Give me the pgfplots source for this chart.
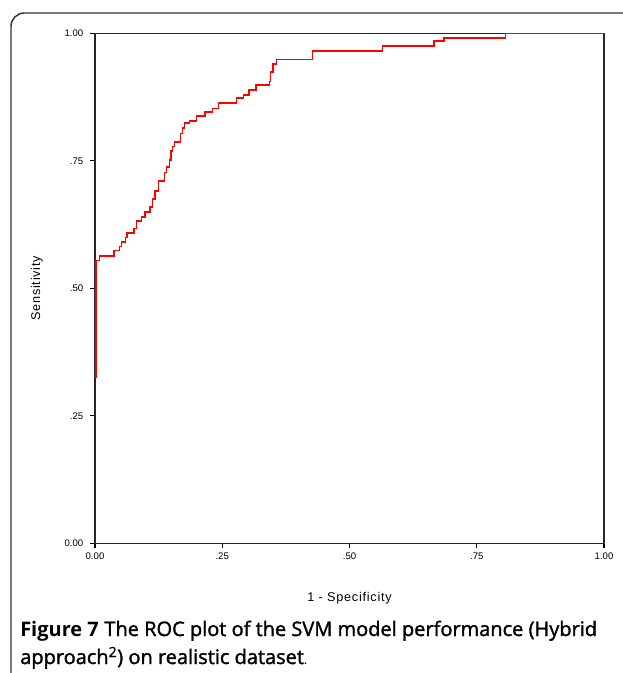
\documentclass[border=0pt]{standalone}
\usepackage{pgfplots}
\pgfplotsset{compat=1.18}
\usepackage{fontspec}
\setmainfont{Liberation Sans}
\newfontfamily\capfont{Open Sans}
\newfontfamily\capsemi[FakeBold=1.6]{Open Sans}
\begin{document}
\begin{tikzpicture}
\useasboundingbox (0,0) rectangle (466.5pt,-504.75pt);
\draw[line width=1.1pt, black!80, rounded corners=10pt] (8.25pt,-520pt) -- (8.25pt,-9.75pt) -- (480pt,-9.75pt);
\begin{axis}[
  at={(71.25pt,-24.975pt)}, anchor=north west,
  scale only axis, width=381.75pt, height=382.5pt,
  xmin=0, xmax=1, ymin=0, ymax=1,
  axis line style={line width=0.9pt, black!85},
  tick pos=left, tick align=outside, major tick length=3.75pt,
  tick style={line width=0.8pt, black},
  xtick={0,0.25,0.5,0.75,1}, ytick={0,0.25,0.5,0.75,1},
  xticklabels={0.00,.25,.50,.75,1.00}, yticklabels={0.00,.25,.50,.75,1.00},
  ticklabel style={font=\fontsize{7.2}{8}\selectfont},
  yticklabel style={xshift=-1.5pt},
  xlabel={1 - Specificity}, ylabel={Sensitivity},
  label style={font=\fontsize{9.5}{11}\selectfont\addfontfeature{LetterSpace=6}},
  xlabel style={at={(axis description cs:0.5,-0.1072)}, anchor=center},
  ylabel style={at={(axis description cs:-0.114,0.5)}, anchor=center},
  clip=false,
]
\addplot[const plot, red, line width=1.1pt] coordinates {
(0.002,0.324) (0.002,0.554) (0.0092,0.563) (0.0373,0.574) (0.0481,0.582) (0.0521,0.591) (0.0599,0.600) (0.0629,0.608) (0.0766,0.617) (0.0815,0.632) (0.0914,0.640) (0.0982,0.650) (0.1081,0.659) (0.1130,0.675) (0.1179,0.691) (0.1244,0.710) (0.1361,0.727) (0.1405,0.738) (0.1460,0.752) (0.1493,0.769) (0.1527,0.778) (0.1558,0.787) (0.1684,0.804) (0.1715,0.814) (0.1754,0.824) (0.1853,0.828) (0.1998,0.838) (0.2161,0.846) (0.2312,0.853) (0.2422,0.863) (0.2784,0.873) (0.2917,0.879) (0.3026,0.889) (0.3163,0.899) (0.3424,0.905) (0.3448,0.924) (0.3497,0.940) (0.3566,0.949) (0.4273,0.965) (0.5648,0.975) (0.6660,0.985) (0.6857,0.991) (0.8069,1.0) (1.0,1.0)
};
\end{axis}
\node[anchor=base west, inner sep=0pt] at (15pt,-477pt) {\fontsize{15}{17}\selectfont{\capfont\bfseries Figure 7} \capsemi The ROC plot of the SVM model performance (Hybrid};
\node[anchor=base west, inner sep=0pt] at (15pt,-498pt) {\fontsize{15}{17}\selectfont\capsemi approach\textsuperscript{2}) on realistic dataset{\capfont\fontsize{10}{11}\selectfont.}};
\end{tikzpicture}
\end{document}
